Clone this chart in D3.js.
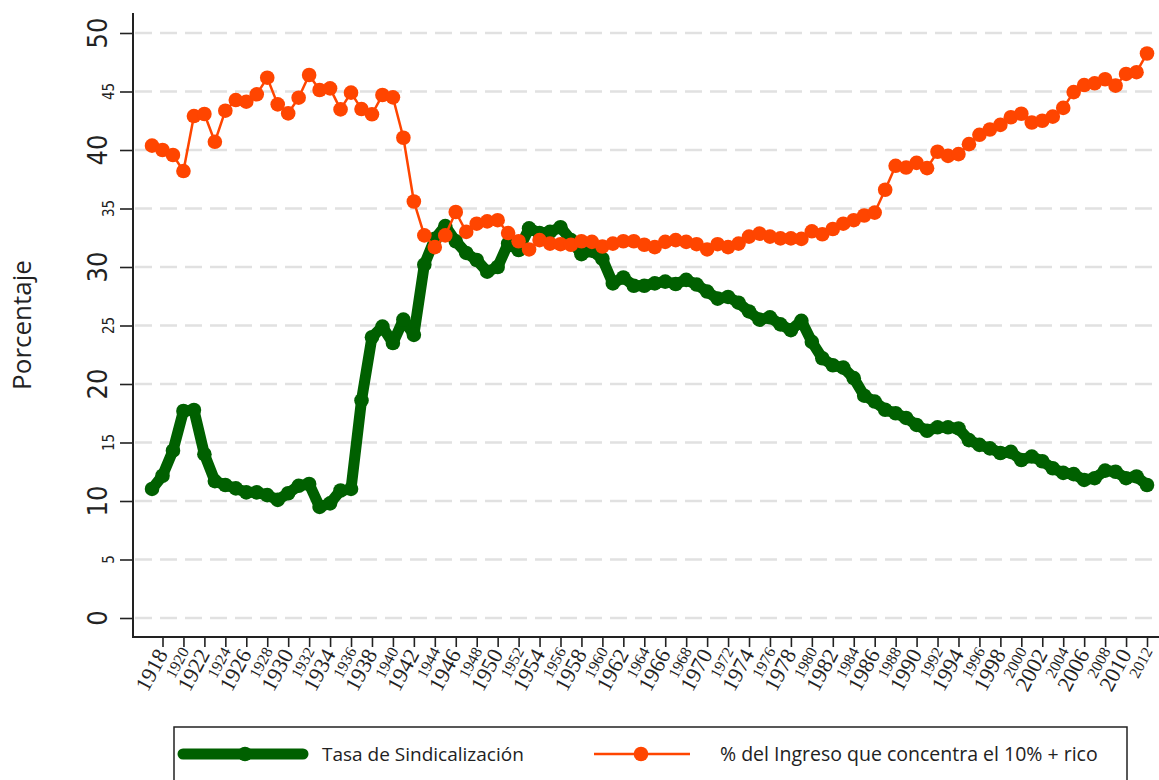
<!DOCTYPE html>
<html>
<head>
<meta charset="utf-8">
<script src="https://cdn.jsdelivr.net/npm/d3@7"></script>
<style>
  html, body { margin: 0; padding: 0; background: #fff; }
  svg { display: block; }
</style>
</head>
<body>
<svg id="chart" width="1159" height="780"></svg>
<script>
// ---- Data ----
const years = d3.range(1917, 2013);
const unionRate = [
  11.03, 12.16, 14.3, 17.69, 17.78, 14.0, 11.7, 11.37, 11.08, 10.74,
  10.74, 10.5, 10.1, 10.66, 11.3, 11.45, 9.5, 9.8, 10.9, 11.03,
  18.6, 24.0, 24.9, 23.5, 25.5, 24.2, 30.2, 32.4, 33.5, 32.2,
  31.2, 30.6, 29.6, 30.0, 32.0, 31.45, 33.3, 32.9, 33.0, 33.4,
  32.3, 31.1, 31.4, 30.7, 28.6, 29.1, 28.4, 28.4, 28.6, 28.75,
  28.55, 28.9, 28.5, 27.9, 27.3, 27.44, 26.95, 26.2, 25.5, 25.7,
  25.1, 24.6, 25.4, 23.6, 22.2, 21.6, 21.4, 20.5, 19.0, 18.5,
  17.8, 17.5, 17.1, 16.5, 16.0, 16.3, 16.3, 16.2, 15.2, 14.8,
  14.5, 14.1, 14.2, 13.5, 13.8, 13.4, 12.8, 12.4, 12.3, 11.8,
  11.95, 12.6, 12.5, 11.95, 12.1, 11.37
];
const top10Share = [
  40.37, 40.0, 39.57, 38.2, 42.9, 43.08, 40.7, 43.36, 44.27, 44.13,
  44.76, 46.18, 43.9, 43.13, 44.47, 46.41, 45.13, 45.27, 43.47, 44.9,
  43.5, 43.05, 44.7, 44.5, 41.05, 35.6, 32.7, 31.7, 32.7, 34.7,
  33.0, 33.7, 33.9, 34.0, 32.9, 32.2, 31.5, 32.3, 32.0, 31.95,
  31.9, 32.2, 32.15, 31.75, 32.0, 32.2, 32.2, 31.9, 31.7, 32.15,
  32.3, 32.15, 31.95, 31.5, 31.95, 31.7, 32.0, 32.6, 32.85, 32.6,
  32.45, 32.45, 32.4, 33.05, 32.8, 33.25, 33.7, 34.0, 34.4, 34.65,
  36.6, 38.65, 38.5, 38.9, 38.45, 39.85, 39.5, 39.65, 40.5, 41.3,
  41.75, 42.15, 42.8, 43.1, 42.35, 42.5, 42.85, 43.6, 44.95, 45.55,
  45.7, 46.05, 45.5, 46.5, 46.65, 48.25
];
const yTicks = [0, 5, 10, 15, 20, 25, 30, 35, 40, 45, 50];
const xTicks = d3.range(1918, 2013, 2);
const seriesNames = ["Tasa de Sindicalización", "% del Ingreso que concentra el 10% + rico"];
const yTitle = "Porcentaje";

// ---- Setup ----
const svg = d3.select("#chart");
const green = "#006000";
const orange = "#ff4500";

const x = d3.scaleLinear().domain([1918, 2012]).range([162.5, 1147]);
const y = d3.scaleLinear().domain([0, 50]).range([618, 33]);

const plotLeft = 133, plotRight = 1159, axisY = 637;

svg.append("rect").attr("width", 1159).attr("height", 780).attr("fill", "#fff");

// gridlines
svg.append("g").selectAll("line").data(yTicks).join("line")
  .attr("x1", plotLeft + 2).attr("x2", plotRight)
  .attr("y1", d => y(d)).attr("y2", d => y(d))
  .attr("stroke", "#e1e1e1").attr("stroke-width", 2.5)
  .attr("stroke-dasharray", "17,8");

// y axis
const yAxis = d3.axisLeft(y).tickValues(yTicks).tickSize(13).tickFormat("");
const gy = svg.append("g").attr("transform", `translate(${plotLeft},0)`).call(yAxis);
gy.select(".domain").remove();
gy.selectAll(".tick line").attr("stroke", "#222").attr("stroke-width", 1.6);
svg.append("line").attr("x1", plotLeft).attr("x2", plotLeft).attr("y1", 13).attr("y2", axisY)
  .attr("stroke", "#222").attr("stroke-width", 2);

// y tick labels (rotated)
svg.append("g").selectAll("text").data(yTicks).join("text")
  .attr("transform", d => {
    const major = d % 10 === 0;
    return `translate(${major ? 107 : 114},${y(d)}) rotate(-90)`;
  })
  .attr("text-anchor", "middle")
  .attr("font-family", "'Liberation Sans Narrow','DejaVu Sans Condensed','Liberation Sans',sans-serif")
  .attr("font-size", d => d % 10 === 0 ? 27 : 15)
  .attr("fill", "#222")
  .text(d => d);

// y title
svg.append("text")
  .attr("transform", `translate(31,325) rotate(-90)`)
  .attr("text-anchor", "middle")
  .attr("font-family", "'Open Sans','Liberation Sans',sans-serif")
  .attr("font-size", 26)
  .attr("fill", "#222")
  .text(yTitle);

// x axis
const xAxis = d3.axisBottom(x).tickValues(xTicks).tickSize(10).tickFormat("");
const gx = svg.append("g").attr("transform", `translate(0,${axisY})`).call(xAxis);
gx.select(".domain").remove();
gx.selectAll(".tick line").attr("stroke", "#222").attr("stroke-width", 1.6);
svg.append("line").attr("x1", plotLeft - 1).attr("x2", plotRight).attr("y1", axisY).attr("y2", axisY)
  .attr("stroke", "#222").attr("stroke-width", 2);

svg.append("g").selectAll("text").data(xTicks).join("text")
  .attr("transform", d => {
    const major = (d - 1918) % 4 === 0;
    return `translate(${x(d) + 6},${major ? 654 : 651}) rotate(-62)`;
  })
  .attr("text-anchor", "end")
  .attr("font-family", "'Liberation Serif','DejaVu Serif',serif")
  .attr("font-size", d => (d - 1918) % 4 === 0 ? 22 : 16)
  .attr("fill", "#222")
  .text(d => d);

// lines
const gData = years.map((yr, i) => ({ yr, v: unionRate[i] }));
const oData = years.map((yr, i) => ({ yr, v: top10Share[i] }));
const line = d3.line().x(d => x(d.yr)).y(d => y(d.v));

svg.append("path").datum(gData).attr("d", line)
  .attr("fill", "none").attr("stroke", green).attr("stroke-width", 11)
  .attr("stroke-linejoin", "round").attr("stroke-linecap", "round");
svg.append("g").selectAll("circle").data(gData).join("circle")
  .attr("cx", d => x(d.yr)).attr("cy", d => y(d.v)).attr("r", 7.3).attr("fill", green);

svg.append("path").datum(oData).attr("d", line)
  .attr("fill", "none").attr("stroke", orange).attr("stroke-width", 2.5)
  .attr("stroke-linejoin", "round");
svg.append("g").selectAll("circle").data(oData).join("circle")
  .attr("cx", d => x(d.yr)).attr("cy", d => y(d.v)).attr("r", 7.3).attr("fill", orange);

// legend
const lg = svg.append("g");
lg.append("rect").attr("x", 174).attr("y", 727).attr("width", 953).attr("height", 80)
  .attr("fill", "#fff").attr("stroke", "#222").attr("stroke-width", 1.5);
lg.append("line").attr("x1", 183).attr("x2", 303).attr("y1", 754).attr("y2", 754)
  .attr("stroke", green).attr("stroke-width", 11).attr("stroke-linecap", "round");
lg.append("circle").attr("cx", 245).attr("cy", 754).attr("r", 7.3).attr("fill", green);
lg.append("text").attr("x", 322).attr("y", 761)
  .attr("font-family", "'Open Sans','Liberation Sans',sans-serif").attr("font-size", 19)
  .attr("fill", "#222").text(seriesNames[0]);
lg.append("line").attr("x1", 594).attr("x2", 690).attr("y1", 754).attr("y2", 754)
  .attr("stroke", orange).attr("stroke-width", 2.5);
lg.append("circle").attr("cx", 641).attr("cy", 754).attr("r", 7.3).attr("fill", orange);
lg.append("text").attr("x", 720).attr("y", 761)
  .attr("font-family", "'Open Sans','Liberation Sans',sans-serif").attr("font-size", 19.5)
  .attr("fill", "#222").text(seriesNames[1]);
</script>
</body>
</html>
